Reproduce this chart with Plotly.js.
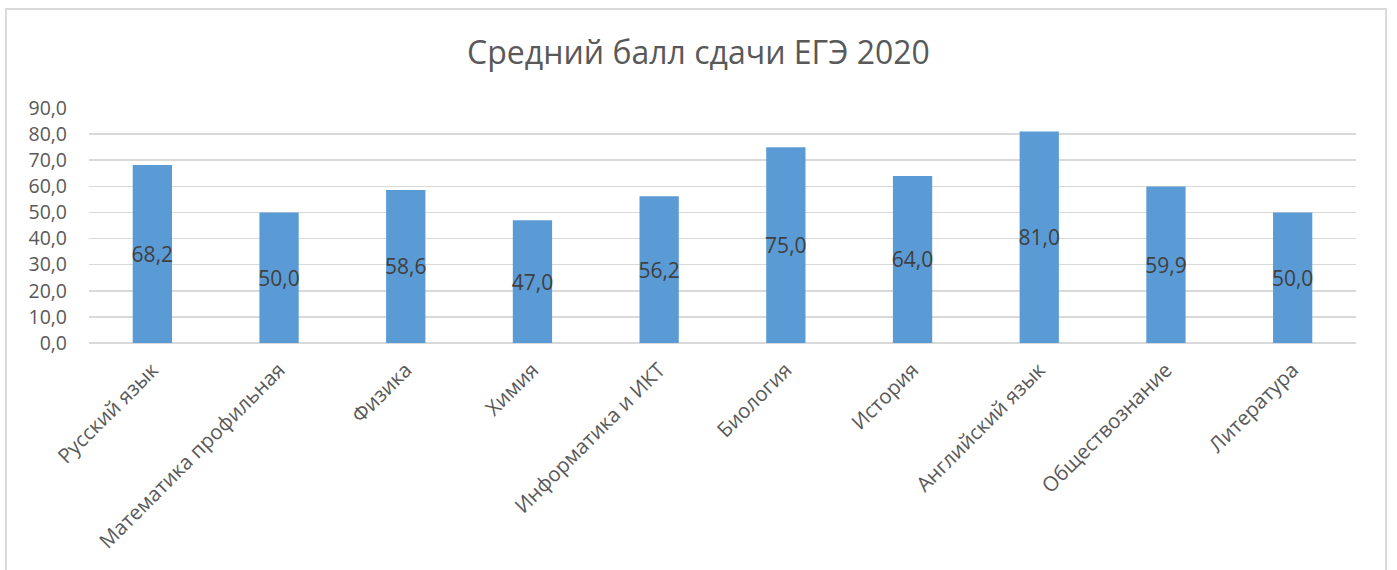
<!DOCTYPE html>
<html><head><meta charset="utf-8">
<script src="https://cdn.plot.ly/plotly-3.0.1.min.js"></script>
<style>html,body{margin:0;padding:0;background:#fff;overflow:hidden}
#wrap{position:relative;width:1397px;height:570px}
#chart{width:1397px;height:570px}
#frame{position:absolute;left:5px;top:8px;width:1378px;height:600px;border:2px solid #d9d9d9;pointer-events:none}
</style></head><body>
<div id="wrap"><div id="chart"></div><div id="frame"></div></div>
<script>
const categories = ["Русский язык","Математика профильная","Физика","Химия","Информатика и ИКТ","Биология","История","Английский язык","Обществознание","Литература"];
const scores = [68.2, 50.0, 58.6, 47.0, 56.2, 75.0, 64.0, 81.0, 59.9, 50.0];
const yTicks = [0,10,20,30,40,50,60,70,80,90];
const chartTitle = "Средний балл сдачи ЕГЭ 2020";

const fmt = v => v.toFixed(1).replace('.', ',');
const font = "Open Sans, Liberation Sans, sans-serif";

Plotly.newPlot('chart', [{
  type: 'bar',
  x: categories,
  y: scores,
  width: 0.31,
  marker: {color: '#5b9bd5', line: {width: 0}},
  text: scores.map(fmt),
  textposition: 'inside',
  insidetextanchor: 'middle',
  textangle: 0,
  constraintext: 'none',
  textfont: {family: font, size: 21, color: '#404040'},
  hoverinfo: 'none'
}], {
  width: 1397, height: 570,
  margin: {l: 89, r: 41, t: 108, b: 227},
  paper_bgcolor: '#fff', plot_bgcolor: '#fff',
  separators: ', ',
  showlegend: false,
  title: {text: chartTitle, font: {family: font, size: 32, color: '#595959'}, x: 0.5, xanchor: 'center', y: 0.907, yanchor: 'middle'},
  xaxis: {
    type: 'category', tickangle: -45, showgrid: false, showline: false, zeroline: false,
    ticks: '', ticklabelstandoff: 10, tickfont: {family: font, size: 20.5, color: '#595959'}
  },
  yaxis: {
    range: [0, 90], tickvals: yTicks, tickformat: '.1f',
    showgrid: true, gridcolor: '#d9d9d9', gridwidth: 1.5,
    zeroline: true, zerolinecolor: '#d9d9d9', zerolinewidth: 1.5,
    showline: false, ticks: '', ticklabelstandoff: 21,
    tickfont: {family: font, size: 19.5, color: '#595959'}
  }
}, {staticPlot: true});
</script></body></html>
